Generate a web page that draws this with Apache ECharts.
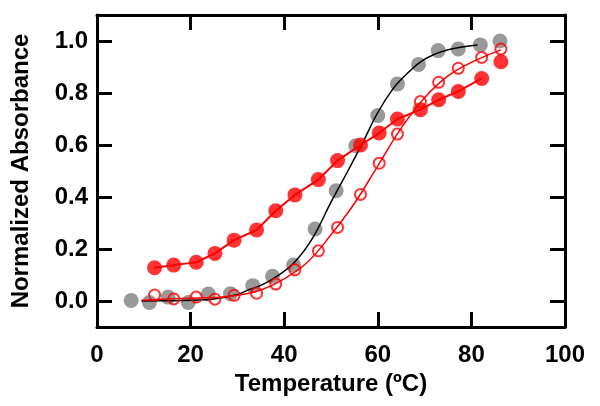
<!DOCTYPE html>
<html>
<head>
<meta charset="utf-8">
<script src="https://cdn.jsdelivr.net/npm/echarts@6/dist/echarts.min.js"></script>
<style>html,body{margin:0;padding:0;background:#fff;}#chart{width:600px;height:406px;}</style>
</head>
<body>
<div id="chart"></div>
<script>
// Gray filled points
const grayTemps = [7.3, 11.2, 15.2, 19.5, 23.8, 28.5, 33.3, 37.5, 42.0, 46.6, 51.1, 55.3, 60.0, 64.2, 68.7, 72.9, 77.2, 81.9, 86.1];
const grayValues = [0.002, -0.006, 0.015, -0.006, 0.027, 0.028, 0.059, 0.095, 0.138, 0.277, 0.424, 0.597, 0.713, 0.835, 0.91, 0.963, 0.969, 0.985, 1.0];
// Black fit curve
const blackFitTemps = [9.5, 15, 20, 25, 30, 32, 35, 38, 42, 46, 50, 53.6, 56.8, 60, 63.2, 66, 69, 72, 75, 78, 81.3];
const blackFitValues = [0.0, 0.001, 0.003, 0.008, 0.025, 0.04, 0.06, 0.09, 0.145, 0.24, 0.38, 0.5, 0.61, 0.725, 0.815, 0.87, 0.918, 0.948, 0.966, 0.977, 0.985];
// Red series temperatures
const redTemps = [12.3, 16.4, 21.2, 25.2, 29.3, 34.1, 38.2, 42.3, 47.3, 51.4, 56.3, 60.3, 64.2, 69.1, 73.0, 77.2, 82.2, 86.3];
// Red filled points
const redFilledValues = [0.128, 0.138, 0.149, 0.183, 0.234, 0.273, 0.347, 0.408, 0.467, 0.54, 0.6, 0.646, 0.7, 0.736, 0.774, 0.806, 0.856, 0.92];
// Red open circles
const redOpenValues = [0.023, 0.008, 0.015, 0.007, 0.022, 0.03, 0.065, 0.12, 0.193, 0.283, 0.41, 0.53, 0.642, 0.767, 0.841, 0.895, 0.937, 0.969];
// Red open fit curve
const redFitTemps = [9.5, 15, 20, 25, 30, 35, 40, 45, 50, 55, 60, 65, 70, 75, 80, 86.3];
const redFitValues = [0.003, 0.008, 0.011, 0.013, 0.022, 0.042, 0.085, 0.15, 0.255, 0.375, 0.52, 0.665, 0.782, 0.866, 0.918, 0.966];
// Tick labels
const xTicks = [0, 20, 40, 60, 80, 100];
const yTicks = [0, 0.2, 0.4, 0.6, 0.8, 1.0];

const zip = (a, b) => a.map((v, i) => [v, b[i]]);
const FONT = '"Liberation Sans", Arial, sans-serif';
const axisLine = { show: true, onZero: false, lineStyle: { color: '#000', width: 3 } };
const tick = { show: true, inside: true, length: 15, lineStyle: { color: '#000', width: 3 } };

const chart = echarts.init(document.getElementById('chart'), null, { renderer: 'canvas' });
chart.setOption({
  animation: false,
  backgroundColor: '#fff',
  grid: { left: 97, right: 35, top: 15, bottom: 79 },
  xAxis: [
    {
      type: 'value', min: 0, max: 100, interval: 20, position: 'bottom',
      axisLine: axisLine,
      axisTick: Object.assign({}, tick, { customValues: xTicks.slice(1, -1) }),
      splitLine: { show: false },
      axisLabel: { color: '#000', fontSize: 24, fontWeight: 'bold', fontFamily: FONT, margin: 16, customValues: xTicks },
      name: 'Temperature (ºC)', nameLocation: 'middle', nameGap: 44,
      nameTextStyle: { color: '#000', fontSize: 24, fontWeight: 'bold', fontFamily: FONT }
    },
    {
      type: 'value', min: 0, max: 100, interval: 20, position: 'top',
      axisLine: axisLine,
      axisTick: Object.assign({}, tick, { customValues: xTicks.slice(1, -1) }),
      axisLabel: { show: false }, splitLine: { show: false }
    }
  ],
  yAxis: [
    {
      type: 'value', min: -0.1, max: 1.1, position: 'left',
      axisLine: axisLine,
      axisTick: Object.assign({}, tick, { customValues: yTicks }),
      splitLine: { show: false },
      axisLabel: { color: '#000', fontSize: 24, fontWeight: 'bold', fontFamily: FONT, margin: 9,
        customValues: yTicks, formatter: v => v.toFixed(1) },
      name: 'Normalized Absorbance', nameLocation: 'middle', nameGap: 64, nameRotate: 90,
      nameTextStyle: { color: '#000', fontSize: 24, fontWeight: 'bold', fontFamily: FONT }
    },
    {
      type: 'value', min: -0.1, max: 1.1, position: 'right',
      axisLine: axisLine,
      axisTick: Object.assign({}, tick, { customValues: yTicks }),
      axisLabel: { show: false }, splitLine: { show: false }
    }
  ],
  series: [
    {
      type: 'scatter', data: zip(grayTemps, grayValues), symbol: 'circle', symbolSize: 15,
      itemStyle: { color: '#7f7f7f' }, z: 1
    },
    {
      type: 'line', data: zip(blackFitTemps, blackFitValues), smooth: 0.4, showSymbol: false, symbol: 'none',
      lineStyle: { color: '#000', width: 1.5 }, z: 2
    },
    {
      type: 'line', data: zip(redTemps, redFilledValues).slice(0, -1), showSymbol: false, symbol: 'none',
      lineStyle: { color: '#ff0000', width: 2 }, z: 3
    },
    {
      type: 'scatter', data: zip(redTemps, redFilledValues), symbol: 'circle', symbolSize: 15,
      itemStyle: { color: '#ff0000' }, z: 4
    },
    {
      type: 'line', data: zip(redFitTemps, redFitValues), smooth: 0.4, showSymbol: false, symbol: 'none',
      lineStyle: { color: '#ff0000', width: 1.5 }, z: 3
    },
    {
      type: 'scatter', data: zip(redTemps, redOpenValues), symbol: 'circle', symbolSize: 11,
      itemStyle: { color: 'rgba(0,0,0,0)', borderColor: '#ff0000', borderWidth: 2 }, z: 4
    }
  ]
});
</script>
</body>
</html>
